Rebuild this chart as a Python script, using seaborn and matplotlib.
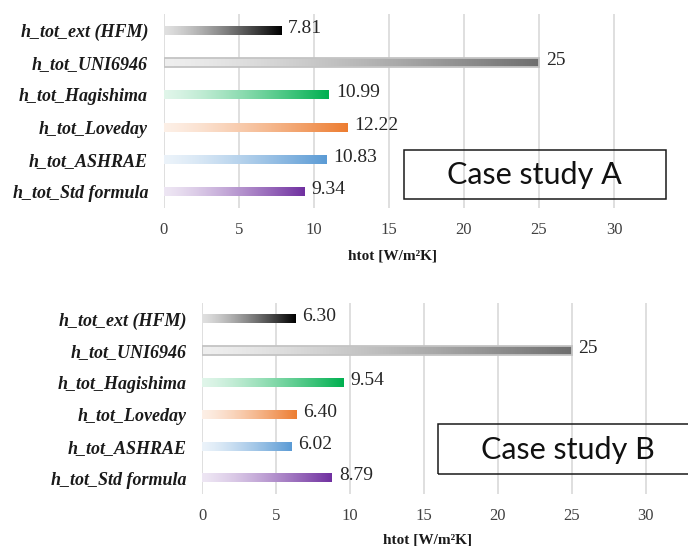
import numpy as np
import pandas as pd
import seaborn as sns
import matplotlib.pyplot as plt
import matplotlib.colors as mcolors
from matplotlib.patches import Rectangle

# data
methods = ["h_tot_ext (HFM)", "h_tot_UNI6946", "h_tot_Hagishima",
           "h_tot_Loveday", "h_tot_ASHRAE", "h_tot_Std formula"]
case_a = [7.81, 25, 10.99, 12.22, 10.83, 9.34]
case_b = [6.30, 25, 9.54, 6.40, 6.02, 8.79]
bar_colors = ["#000000", "#6e6e6e", "#00b050", "#ed7d31", "#5b9bd5", "#7030a0"]
ticks = [0, 5, 10, 15, 20, 25, 30]

W, H = 688, 546
sns.set_style("white")
plt.rcParams['font.family'] = ['Liberation Serif', 'DejaVu Serif']

fig = plt.figure(figsize=(W / 100, H / 100), dpi=100)


def px_rect(left, top, right, bottom):
    return [left / W, 1 - bottom / H, (right - left) / W, (bottom - top) / H]


def fmt(v):
    return f"{v:.0f}" if float(v).is_integer() else f"{v:.2f}"


def draw_panel(ax, values, title, box, text_xy, ypad, tpad, lpad):
    df = pd.DataFrame({"method": methods, "htot": values})
    sns.barplot(data=df, x="htot", y="method", hue="method", palette=bar_colors,
                width=0.27, legend=False, ax=ax, orient="h", zorder=2)

    # gradient fills, light on the left, full colour at the bar end
    for patch in ax.patches:
        x0, y0 = patch.get_x(), patch.get_y()
        w, h = patch.get_width(), patch.get_height()
        i = int(round(y0 + h / 2))
        end = np.array(mcolors.to_rgb(bar_colors[i]))
        start = end * 0.12 + 0.88
        if i == 1:
            start = np.array(mcolors.to_rgb("#efefef"))
        t = np.linspace(0, 1, 256)[None, :, None] ** 1.3
        img = start + (end - start) * t
        ax.imshow(img, extent=[x0, x0 + w, y0 + h, y0], aspect="auto",
                  interpolation="bilinear", zorder=2)
        if i == 1:
            patch.set_facecolor("none")
            patch.set_edgecolor("#c4c4c4")
            patch.set_linewidth(1.3)
            patch.set_zorder(3)
        else:
            patch.set_visible(False)

    for i, v in enumerate(values):
        ax.annotate(fmt(v), xy=(v, i), xytext=(5, 1.5), textcoords="offset points",
                    va="center", ha="left", fontsize=14, color="#262626")

    ax.set_xlim(0, 30.5)
    ax.set_ylim(5.5, -0.5)
    ax.set_xticks(ticks)
    ax.xaxis.grid(True, color="#d9d9d9", lw=1.2, zorder=0)
    ax.yaxis.grid(False)
    ax.set_axisbelow(True)
    sns.despine(ax=ax, left=True, bottom=True)
    ax.tick_params(axis="x", length=0, pad=tpad, labelsize=12, labelcolor="#404040")
    ax.tick_params(axis="y", length=0, pad=ypad)
    for lab in ax.get_yticklabels():
        lab.set_fontweight("bold")
        lab.set_fontstyle("italic")
        lab.set_fontsize(13)
        lab.set_color("#1a1a1a")
    ax.set_ylabel("")
    ax.set_xlabel("htot [W/m²K]", fontweight="bold", fontsize=11, labelpad=lpad,
                  color="#1a1a1a")

    # "Case study" box drawn on the figure
    l, t_, r, b = box
    fig.add_artist(Rectangle((l / W, 1 - b / H), (r - l) / W, (b - t_) / H,
                             transform=fig.transFigure, fill=False,
                             edgecolor="#1a1a1a", lw=1.1, zorder=5))
    fig.text(text_xy[0] / W, 1 - text_xy[1] / H, title, ha="center", va="center",
             fontsize=22, family="Lato", color="#111111", zorder=6)


ax_a = fig.add_axes(px_rect(164, 14, 621.5, 208))
ax_b = fig.add_axes(px_rect(202, 303, 653, 494))

draw_panel(ax_a, case_a, "Case study A", (404, 150, 666, 199), (534, 175), 11.5, 10, 8.5)
draw_panel(ax_b, case_b, "Case study B", (438, 424, 700, 474), (568, 450), 11, 10, 7)

fig.savefig("out.png", dpi=100)
